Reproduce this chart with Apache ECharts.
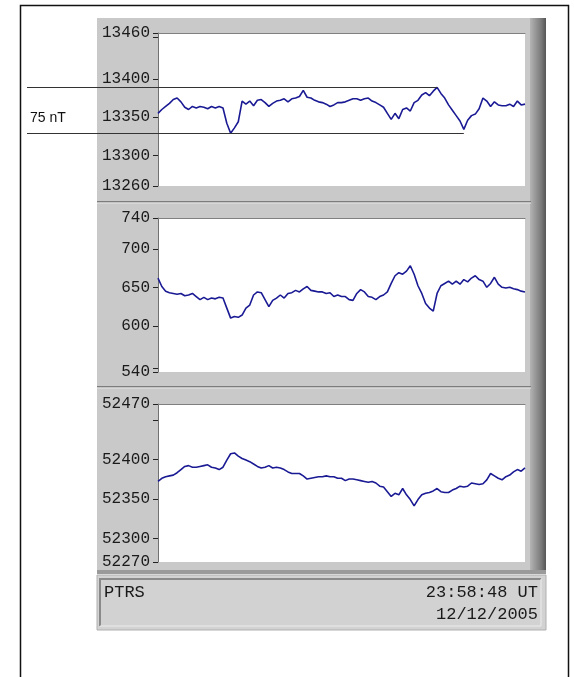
<!DOCTYPE html>
<html><head><meta charset="utf-8">
<script src="https://cdn.jsdelivr.net/npm/echarts@6/dist/echarts.min.js"></script>
<style>html,body{margin:0;padding:0;background:#fff}#c{width:574px;height:677px}</style>
</head><body><div id="c"></div>
<script>
// time of day in minutes (UT), one sample each 15 min
const minutes = Array.from({length: 97}, (_, i) => i * 15);

// panel 1 (nT)
const fieldTop = [13355,13360,13364,13368,13373,13375,13370,13363,13360,13364,
  13362,13364,13363,13361,13364,13362,13364,13362,13342,13329,
  13336,13344,13371,13367,13371,13365,13372,13373,13369,13364,
  13368,13371,13372,13374,13370,13374,13375,13377,13385,13376,
  13375,13372,13370,13369,13367,13364,13366,13369,13369,13370,
  13372,13374,13374,13372,13374,13375,13371,13369,13366,13363,
  13355,13347,13355,13348,13360,13362,13358,13369,13372,13379,
  13382,13378,13384,13389,13381,13375,13366,13359,13352,13345,
  13334,13346,13352,13354,13361,13375,13371,13364,13370,13366,
  13365,13365,13367,13364,13371,13366,13367];
// panel 2
const fieldMid = [662,651,645,643,642,641,642,639,640,642,
  638,634,637,634,636,635,637,636,623,610,
  612,611,614,623,627,640,644,643,634,625,
  633,636,640,636,642,643,646,644,648,651,
  646,645,644,644,642,643,638,640,638,638,
  634,633,642,647,644,638,637,634,638,640,
  644,655,665,669,667,671,678,667,652,642,
  629,623,619,642,652,655,658,654,658,654,
  660,657,662,665,660,658,650,655,663,654,
  650,649,650,648,647,645,644];
// panel 3
const fieldBot = [52372,52376,52378,52379,52380,52383,52387,52391,52392,52390,
  52390,52391,52392,52393,52390,52389,52387,52390,52399,52407,
  52408,52404,52401,52399,52397,52394,52391,52389,52390,52392,
  52389,52390,52389,52387,52384,52382,52382,52382,52379,52375,
  52376,52377,52378,52378,52379,52378,52378,52376,52376,52373,
  52375,52375,52374,52373,52372,52371,52372,52370,52366,52365,
  52359,52353,52357,52355,52363,52355,52349,52341,52349,52355,
  52357,52358,52360,52363,52359,52358,52358,52361,52363,52366,
  52365,52366,52370,52369,52368,52369,52374,52382,52379,52376,
  52374,52378,52380,52384,52387,52385,52389];

const topLabels = [13260, 13300, 13350, 13400, 13460];
const topTicks  = [13260, 13300, 13350, 13400, 13455, 13460];
const midLabels = [540, 600, 650, 700, 740];
const midTicks  = [540, 545, 600, 650, 700, 740];
const botLabels = [52270, 52300, 52350, 52400, 52470];
const botTicks  = [52270, 52300, 52350, 52400, 52450, 52470];
const ranges = [[13260, 13460], [540, 740], [52270, 52470]];

const station = 'PTRS';
const timeText = '23:58:48 UT';
const dateText = '12/12/2005';
const spanText = '75 nT';
const lowerEndIdx = 80; // second trough where the lower guide ends

const toPairs = arr => arr.map((v, i) => [minutes[i], v]);

const grids = [
  {left: 158, top: 33, width: 367, height: 153},
  {left: 158, top: 218, width: 367, height: 154},
  {left: 158, top: 404, width: 367, height: 158}
].map(g => Object.assign(g, {show: true, backgroundColor: '#ffffff', borderWidth: 0}));

const labelFont = {fontFamily: 'Liberation Mono', fontSize: 16, color: '#1a1a1a'};
const yAxes = [[topLabels, topTicks], [midLabels, midTicks], [botLabels, botTicks]].map((p, k) => ({
  type: 'value', gridIndex: k, min: ranges[k][0], max: ranges[k][1],
  splitLine: {show: false},
  axisLine: {show: true, lineStyle: {color: '#707070', width: 1}},
  axisTick: {show: true, customValues: p[1], length: 5, inside: false, lineStyle: {color: '#222', width: 1}},
  axisLabel: Object.assign({customValues: p[0], margin: 8, formatter: v => String(v)}, labelFont)
}));
const xAxes = [0, 1, 2].map(k => ({
  type: 'value', gridIndex: k, min: 0, max: 1440, position: 'top',
  axisLine: {show: true, onZero: false, lineStyle: {color: '#808080', width: 1}},
  axisTick: {show: false}, axisLabel: {show: false}, splitLine: {show: false}
}));

const maxTop = Math.max(...fieldTop), minTop = Math.min(...fieldTop);
const maxIdx = fieldTop.indexOf(maxTop);
const lineColor = '#1a1a94';

const series = [fieldTop, fieldMid, fieldBot].map((arr, k) => ({
  type: 'line', xAxisIndex: k, yAxisIndex: k, data: toPairs(arr),
  showSymbol: false, symbol: 'none', clip: false,
  lineStyle: {color: lineColor, width: 1.6}, animation: false
}));
series[0].markLine = {
  silent: true, symbol: 'none', animation: false,
  label: {show: false},
  lineStyle: {color: '#333', width: 1, type: 'solid'},
  data: [
    [{x: 27, yAxis: maxTop}, {xAxis: minutes[maxIdx], yAxis: maxTop}],
    [{x: 27, yAxis: minTop}, {xAxis: minutes[lowerEndIdx], yAxis: minTop}]
  ]
};

const G = [];
// outer frame
G.push({type: 'rect', shape: {x: 20.5, y: 5.5, width: 548, height: 700}, style: {fill: 'none', stroke: '#111', lineWidth: 1.5}, z: -20});
// gray panel body
G.push({type: 'rect', shape: {x: 97, y: 18, width: 434, height: 555}, style: {fill: '#c9c9c9'}, z: -10});
// right dark bevel
G.push({type: 'rect', shape: {x: 530, y: 18, width: 16, height: 555}, style: {fill: new echarts.graphic.LinearGradient(0, 0, 1, 0, [
  {offset: 0, color: '#b4b4b4'}, {offset: 0.35, color: '#979797'}, {offset: 0.7, color: '#7a7a7a'}, {offset: 1, color: '#555'}])}, z: -9});
// separators
[201, 386].forEach(y => {
  G.push({type: 'rect', shape: {x: 97, y: y, width: 434, height: 1.5}, style: {fill: '#7c7c7c'}, z: -8});
  G.push({type: 'rect', shape: {x: 97, y: y + 1.5, width: 434, height: 1}, style: {fill: '#e6e6e6'}, z: -8});
});
// bottom bevel
G.push({type: 'rect', shape: {x: 97, y: 570, width: 449, height: 4}, style: {fill: '#9a9a9a'}, z: -8});
// footer box
G.push({type: 'rect', shape: {x: 97, y: 575, width: 449, height: 55}, style: {fill: '#d2d2d2', stroke: '#b0b0b0', lineWidth: 1}, z: -8});
G.push({type: 'polyline', shape: {points: [[100, 626], [100, 579], [541, 579]]}, style: {stroke: '#8a8a8a', lineWidth: 2, fill: 'none'}, z: -7});
G.push({type: 'polyline', shape: {points: [[100, 626], [541, 626], [541, 579]]}, style: {stroke: '#ececec', lineWidth: 1, fill: 'none'}, z: -7});
// footer text
const ft = {fontFamily: 'Liberation Mono', fontSize: 17, fill: '#1a1a1a'};
G.push({type: 'text', x: 104, y: 592, style: Object.assign({text: station, textVerticalAlign: 'middle'}, ft), z: 5});
G.push({type: 'text', x: 538, y: 592, style: Object.assign({text: timeText, textAlign: 'right', textVerticalAlign: 'middle'}, ft), z: 5});
G.push({type: 'text', x: 538, y: 614, style: Object.assign({text: dateText, textAlign: 'right', textVerticalAlign: 'middle'}, ft), z: 5});
// annotation label
G.push({type: 'text', x: 30, y: 118, style: {text: spanText, fontFamily: 'Liberation Sans', fontSize: 14, fill: '#111', textVerticalAlign: 'middle'}, z: 5});

const chart = echarts.init(document.getElementById('c'), null, {renderer: 'canvas'});
chart.setOption({
  animation: false,
  backgroundColor: '#ffffff',
  grid: grids, xAxis: xAxes, yAxis: yAxes, series: series,
  graphic: {elements: G}
});
</script></body></html>
